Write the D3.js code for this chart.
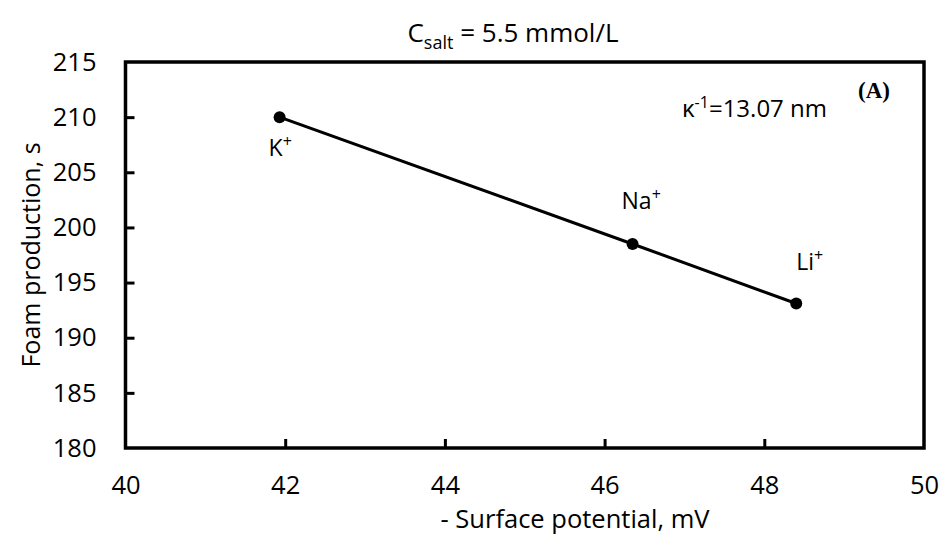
<!DOCTYPE html>
<html>
<head>
<meta charset="utf-8">
<script src="https://cdn.jsdelivr.net/npm/d3@7"></script>
<style>
  html, body { margin: 0; padding: 0; background: #fff; }
  svg text { font-family: "Open Sans", sans-serif; fill: #000; }
</style>
</head>
<body>
<svg id="chart" width="947" height="536"></svg>
<script>
// Foam production vs. surface potential for three cations
const ions = ["K", "Na", "Li"];
const potential = [41.93, 46.35, 48.40];
const foamTime = [210.0, 198.5, 193.1];
const xTicks = [40, 42, 44, 46, 48, 50];
const yTicks = [180, 185, 190, 195, 200, 205, 210, 215];

const FONT = "'Open Sans', sans-serif";
const svg = d3.select("#chart");
const margin = { left: 125.5, right: 23, top: 62, bottom: 88 };
const W = 947, H = 536;

const x = d3.scaleLinear().domain([40, 50]).range([margin.left, W - margin.right]);
const y = d3.scaleLinear().domain([180, 215]).range([H - margin.bottom, margin.top]);

// axes with inward ticks
const xAxis = svg.append("g")
  .attr("transform", `translate(0,${y(180)})`)
  .call(d3.axisBottom(x).tickValues(xTicks).tickSize(-9).tickPadding(28).tickSizeOuter(0));
const yAxis = svg.append("g")
  .attr("transform", `translate(${x(40)},0)`)
  .call(d3.axisLeft(y).tickValues(yTicks).tickSize(-9).tickPadding(29).tickSizeOuter(0));

[xAxis, yAxis].forEach(g => {
  g.attr("font-family", FONT).attr("font-size", 25.5);
  g.selectAll(".domain").remove();
  g.selectAll("line").attr("stroke", "#000").attr("stroke-width", 3);
  g.selectAll("text").attr("fill", "#000");
});
xAxis.selectAll(".tick").filter(d => d === 40 || d === 50).select("line").remove();
yAxis.selectAll(".tick").filter(d => d === 180 || d === 215).select("line").remove();

// plot frame
svg.append("rect")
  .attr("x", x(40)).attr("y", y(215))
  .attr("width", x(50) - x(40)).attr("height", y(180) - y(215))
  .attr("fill", "none").attr("stroke", "#000").attr("stroke-width", 3.5);

// data line and markers
const pts = potential.map((p, i) => ({ ion: ions[i], x: p, y: foamTime[i] }));
svg.append("path")
  .datum(pts)
  .attr("fill", "none").attr("stroke", "#000").attr("stroke-width", 3)
  .attr("d", d3.line().x(d => x(d.x)).y(d => y(d.y)));
svg.selectAll("circle.pt").data(pts).join("circle")
  .attr("class", "pt")
  .attr("cx", d => x(d.x)).attr("cy", d => y(d.y)).attr("r", 6)
  .attr("fill", "#000");

// cation labels
const labelOffsets = { K: [-11, 39], Na: [-11, -35], Li: [0, -34] };
pts.forEach(d => {
  const [dx, dy] = labelOffsets[d.ion];
  const t = svg.append("text")
    .attr("x", x(d.x) + dx).attr("y", y(d.y) + dy)
    .attr("font-size", 23);
  t.append("tspan").text(d.ion);
  t.append("tspan").attr("dy", -9).attr("font-size", 16).text("+");
});

// Debye length annotation
const k = svg.append("text").attr("x", 682).attr("y", 117).attr("font-size", 24);
k.append("tspan").text("κ");
k.append("tspan").attr("dy", -9).attr("font-size", 16).text("-1");
k.append("tspan").attr("dy", 9).text("=13.07 nm");

// panel letter
svg.append("text").attr("x", 858).attr("y", 98)
  .style("font-family", "'Liberation Serif', 'DejaVu Serif', serif")
  .attr("font-weight", "bold").attr("font-size", 23).text("(A)");

// title
const title = svg.append("text").attr("x", 513).attr("y", 42)
  .attr("text-anchor", "middle").attr("font-size", 26);
title.append("tspan").text("C");
title.append("tspan").attr("dy", 7).attr("font-size", 18).text("salt");
title.append("tspan").attr("dy", -7).text(" = 5.5 mmol/L");

// axis titles
svg.append("text").attr("x", 575).attr("y", 528)
  .attr("text-anchor", "middle").attr("font-size", 25.5)
  .text("- Surface potential, mV");
svg.append("text")
  .attr("transform", `translate(40,${(y(180) + y(215)) / 2}) rotate(-90)`)
  .attr("text-anchor", "middle").attr("font-size", 25)
  .text("Foam production, s");
</script>
</body>
</html>
